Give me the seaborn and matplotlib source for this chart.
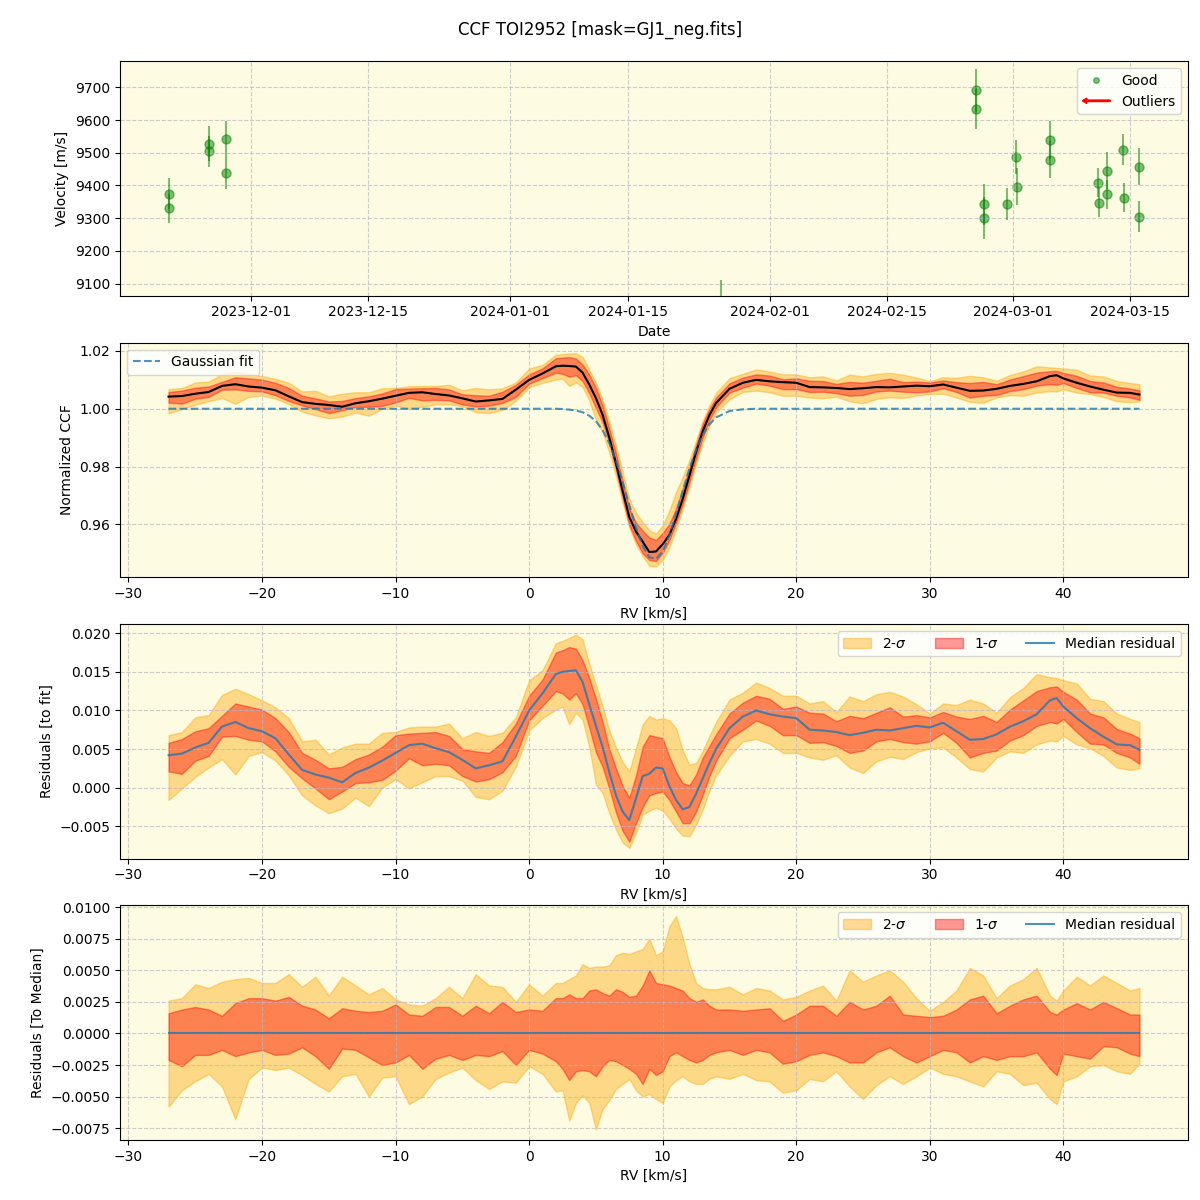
import numpy as np
import pandas as pd
import matplotlib
matplotlib.use("Agg")
import matplotlib.pyplot as plt
import matplotlib.dates as mdates
import matplotlib.patches as mpatches
from matplotlib.lines import Line2D
from matplotlib.legend_handler import HandlerPatch
import seaborn as sns


# ---- RV time series (top panel)
good_dates = ["2023-11-21 04:00", "2023-11-21 06:00", "2023-11-26 00:00", "2023-11-26 01:00",
              "2023-11-28 00:00", "2023-11-28 01:00", "2024-02-25 14:00", "2024-02-25 15:00",
              "2024-02-26 12:00", "2024-02-26 13:00", "2024-02-29 07:00", "2024-03-01 10:00",
              "2024-03-01 11:00", "2024-03-05 10:00", "2024-03-05 11:00", "2024-03-11 05:00",
              "2024-03-11 06:00", "2024-03-12 05:00", "2024-03-12 06:00", "2024-03-14 05:00",
              "2024-03-14 06:00", "2024-03-16 02:00", "2024-03-16 03:00"]
good_vel = [9375, 9330, 9528, 9504, 9543, 9439, 9691, 9635, 9342, 9301, 9342, 9488,
            9396, 9540, 9479, 9409, 9347, 9445, 9373, 9509, 9363, 9458, 9305]
good_err = [48, 45, 53, 48, 53, 50, 66, 61, 63, 64, 49, 52,
            56, 58, 56, 45, 44, 56, 45, 47, 44, 58, 48]
outlier_dates = ["2024-01-26 03:00"]
outlier_vel = [8950]
outlier_err = [160]

# ---- CCF (RV grid in km/s)
rv = [-27, -26, -25, -24, -23, -22, -21, -20, -19, -18, -17, -16, -15, -14, -13, -12, -11, -10,
      -9, -8, -7, -6, -5, -4, -3, -2, -1, 0, 1, 2,
      2.5, 3, 3.5, 4, 4.5, 5, 5.5, 6, 6.5, 7, 7.5, 8, 8.5, 9, 9.5, 10, 10.5, 11, 11.5, 12,
      12.5, 13, 13.5,
      14, 15, 16, 17, 18, 19, 20, 21, 22, 23, 24, 25, 26, 27, 28, 29, 30, 31, 32, 33, 34, 35,
      36, 37, 38, 39, 39.5, 40, 41, 42, 43, 44, 45, 45.7]

# Gaussian fit of the CCF
gauss_fit = [1.0, 1.0, 1.0, 1.0, 1.0, 1.0, 1.0, 1.0, 1.0, 1.0, 1.0, 1.0, 1.0, 1.0, 1.0, 1.0, 1.0, 1.0,
             1.0, 1.0, 1.0, 1.0, 1.0, 1.0, 1.0, 1.0, 1.0, 1.0, 1.0, 1.0,
             0.9999, 0.9997, 0.9994, 0.9988, 0.9976, 0.9957, 0.9926, 0.9881, 0.9821, 0.9747,
             0.9667, 0.9589, 0.9525, 0.9486, 0.9480, 0.9506, 0.9561, 0.9635, 0.9716, 0.9793,
             0.9858, 0.9910, 0.9946,
             0.9970, 0.9992, 0.9998, 1.0, 1.0, 1.0, 1.0, 1.0, 1.0, 1.0, 1.0, 1.0, 1.0, 1.0, 1.0,
             1.0, 1.0, 1.0, 1.0, 1.0, 1.0, 1.0, 1.0, 1.0, 1.0, 1.0, 1.0, 1.0, 1.0, 1.0, 1.0, 1.0,
             1.0, 1.0]

# median residual (CCF - fit)
resid_median = [0.0042, 0.0044, 0.0052, 0.0058, 0.0079, 0.0085, 0.0077, 0.0073, 0.0064, 0.0043,
                0.0023, 0.0017, 0.0013, 0.0007, 0.0019, 0.0026, 0.0035, 0.0045, 0.0055, 0.0057,
                0.0051, 0.0046, 0.0036, 0.0025, 0.0029, 0.0034, 0.0066, 0.0100, 0.0122, 0.0147,
                0.0150, 0.0151, 0.0152, 0.0137, 0.0108, 0.0080, 0.0053, 0.0020, -0.0010, -0.0031,
                -0.0042, -0.0014, 0.0015, 0.0018, 0.0026, 0.0025, 0.0002, -0.0016, -0.0028, -0.0025,
                -0.0008, 0.0012, 0.0032,
                0.0050, 0.0077, 0.0092, 0.0100, 0.0095, 0.0092, 0.0090, 0.0075, 0.0074, 0.0072,
                0.0068, 0.0071, 0.0075, 0.0074, 0.0077, 0.0080, 0.0078, 0.0084, 0.0073, 0.0062,
                0.0063, 0.0069, 0.0079, 0.0086, 0.0095, 0.0113, 0.0116, 0.0105, 0.0090, 0.0077,
                0.0066, 0.0056, 0.0055, 0.0049]

# band edges relative to the median
hi_2sig = [0.0026, 0.0028, 0.0039, 0.0036, 0.0041, 0.0043, 0.0044, 0.0040, 0.0040, 0.0047,
           0.0037, 0.0045, 0.0030, 0.0045, 0.0038, 0.0031, 0.0036, 0.0027, 0.0023, 0.0022,
           0.0028, 0.0037, 0.0028, 0.0047, 0.0038, 0.0037, 0.0025, 0.0039, 0.0030, 0.0040,
           0.0040, 0.0043, 0.0046, 0.0055, 0.0052, 0.0053, 0.0053, 0.0054, 0.0062, 0.0064,
           0.0063, 0.0065, 0.0067, 0.0075, 0.0062, 0.0065, 0.0085, 0.0093, 0.0076, 0.0055,
           0.0040, 0.0036, 0.0035,
           0.0035, 0.0037, 0.0031, 0.0036, 0.0034, 0.0027, 0.0029, 0.0034, 0.0038, 0.0026,
           0.0050, 0.0041, 0.0046, 0.0050, 0.0041, 0.0028, 0.0018, 0.0025, 0.0034, 0.0052,
           0.0046, 0.0028, 0.0038, 0.0043, 0.0052, 0.0030, 0.0026, 0.0034, 0.0045, 0.0038,
           0.0046, 0.0040, 0.0034, 0.0036]
hi_1sig = [0.0016, 0.0019, 0.0021, 0.0019, 0.0014, 0.0024, 0.0028, 0.0028, 0.0026, 0.0029,
           0.0022, 0.0019, 0.0012, 0.0020, 0.0018, 0.0017, 0.0018, 0.0023, 0.0015, 0.0014,
           0.0021, 0.0021, 0.0014, 0.0022, 0.0016, 0.0025, 0.0017, 0.0019, 0.0018, 0.0028,
           0.0028, 0.0031, 0.0028, 0.0028, 0.0034, 0.0035, 0.0032, 0.0030, 0.0035, 0.0033,
           0.0029, 0.0030, 0.0038, 0.0050, 0.0040, 0.0039, 0.0038, 0.0036, 0.0034, 0.0028,
           0.0025, 0.0027, 0.0022,
           0.0019, 0.0019, 0.0018, 0.0019, 0.0020, 0.0010, 0.0015, 0.0022, 0.0022, 0.0014,
           0.0025, 0.0019, 0.0022, 0.0030, 0.0015, 0.0014, 0.0013, 0.0014, 0.0019, 0.0027,
           0.0030, 0.0016, 0.0022, 0.0027, 0.0030, 0.0017, 0.0015, 0.0019, 0.0024, 0.0019,
           0.0025, 0.0020, 0.0015, 0.0015]
lo_1sig = [-0.0021, -0.0026, -0.0017, -0.0017, -0.0013, -0.0018, -0.0015, -0.0013, -0.0017, -0.0016,
           -0.0011, -0.0018, -0.0028, -0.0012, -0.0013, -0.0019, -0.0025, -0.0023, -0.0017, -0.0028,
           -0.0020, -0.0017, -0.0021, -0.0017, -0.0018, -0.0014, -0.0025, -0.0013, -0.0016, -0.0022,
           -0.0028, -0.0037, -0.0030, -0.0029, -0.0030, -0.0034, -0.0026, -0.0021, -0.0022, -0.0025,
           -0.0028, -0.0032, -0.0040, -0.0028, -0.0033, -0.0030, -0.0018, -0.0015, -0.0018, -0.0021,
           -0.0023, -0.0021, -0.0017,
           -0.0015, -0.0013, -0.0017, -0.0013, -0.0015, -0.0024, -0.0022, -0.0017, -0.0015, -0.0018,
           -0.0023, -0.0023, -0.0015, -0.0011, -0.0018, -0.0023, -0.0018, -0.0013, -0.0015, -0.0023,
           -0.0018, -0.0021, -0.0018, -0.0018, -0.0015, -0.0028, -0.0033, -0.0016, -0.0018, -0.0020,
           -0.0010, -0.0011, -0.0016, -0.0018]
lo_2sig = [-0.0058, -0.0045, -0.0038, -0.0032, -0.0042, -0.0068, -0.0036, -0.0027, -0.0029, -0.0027,
           -0.0033, -0.0040, -0.0046, -0.0034, -0.0032, -0.0050, -0.0035, -0.0034, -0.0056, -0.0050,
           -0.0036, -0.0031, -0.0027, -0.0037, -0.0044, -0.0038, -0.0039, -0.0026, -0.0032, -0.0046,
           -0.0045, -0.0069, -0.0055, -0.0049, -0.0055, -0.0076, -0.0060, -0.0053, -0.0044, -0.0040,
           -0.0036, -0.0045, -0.0050, -0.0048, -0.0052, -0.0055, -0.0042, -0.0037, -0.0034, -0.0038,
           -0.0040, -0.0040, -0.0036,
           -0.0034, -0.0036, -0.0032, -0.0037, -0.0038, -0.0047, -0.0045, -0.0036, -0.0038, -0.0030,
           -0.0042, -0.0052, -0.0041, -0.0034, -0.0040, -0.0034, -0.0027, -0.0032, -0.0034, -0.0038,
           -0.0042, -0.0030, -0.0032, -0.0041, -0.0039, -0.0052, -0.0056, -0.0038, -0.0034, -0.0026,
           -0.0025, -0.0030, -0.0032, -0.0024]

BG = "#fdfbe1"
GRID = dict(linestyle="--", color="#b8b8c8", alpha=0.7, linewidth=0.8)


def make_arrow(legend, orig_handle, xdescent, ydescent, width, height, fontsize):
    return mpatches.FancyArrow(-xdescent + width, -ydescent + height / 2, -width, 0,
                               width=height * 0.15, head_width=height * 0.55,
                               head_length=height * 0.45, length_includes_head=True)


def band_plot(ax, x, med, offsets, median_color, median_label, band_labels=True):
    h2, h1, l1, l2 = offsets
    lab2 = "2-$\\sigma$" if band_labels else "_nolegend_"
    lab1 = "1-$\\sigma$" if band_labels else "_nolegend_"
    ax.fill_between(x, med + l2, med + h2, color="orange", alpha=0.4, label=lab2)
    ax.fill_between(x, med + l1, med + h1, color="red", alpha=0.4, label=lab1)
    sns.lineplot(x=x, y=med, ax=ax, color=median_color, lw=1.5,
                 alpha=0.8 if median_label else 1,
                 label=median_label, sort=False, estimator=None)


x = np.array(rv)
fit = np.array(gauss_fit)
resid = np.array(resid_median)
offs = (np.array(hi_2sig), np.array(hi_1sig), np.array(lo_1sig), np.array(lo_2sig))

fig, axes = plt.subplots(4, 1, figsize=(12, 12), dpi=100)
fig.subplots_adjust(left=0.1, right=0.99, top=0.949, bottom=0.05, hspace=0.2)
fig.suptitle("CCF TOI2952 [mask=GJ1_neg.fits]", fontsize=12, y=0.983)

for ax in axes:
    ax.set_facecolor(BG)

# --- panel 1: velocities
ax = axes[0]
gd = pd.to_datetime(good_dates)
od = pd.to_datetime(outlier_dates)
ax.errorbar(gd, good_vel, yerr=good_err, fmt="none", ecolor="green", alpha=0.5, elinewidth=1.5)
ax.errorbar(od, outlier_vel, yerr=outlier_err, fmt="none", ecolor="green", alpha=0.5, elinewidth=1.5)
sns.scatterplot(x=gd, y=good_vel, ax=ax, color="green", edgecolor="green", linewidth=1,
                alpha=0.5, s=42, legend=False)
ax.set_ylim(9063, 9780)
ax.xaxis.set_major_locator(mdates.DayLocator(bymonthday=[1, 15]))
ax.xaxis.set_major_formatter(mdates.DateFormatter("%Y-%m-%d"))
ax.set_xlabel("Date")
ax.set_ylabel("Velocity [m/s]")
ax.grid(True, **GRID)
good_h = Line2D([], [], marker="o", color="green", alpha=0.5, linestyle="None", markersize=4)
out_h = mpatches.FancyArrow(0, 0, 1, 0, color="red")
ax.legend([good_h, out_h], ["Good", "Outliers"], loc="upper right",
          handler_map={mpatches.FancyArrow: HandlerPatch(patch_func=make_arrow)})

# --- panel 2: CCF + gaussian fit
ax = axes[1]
band_plot(ax, x, fit + resid, offs, "black", None, band_labels=False)
sns.lineplot(x=x, y=fit, ax=ax, color="tab:blue", alpha=0.8, lw=1.5, linestyle="--",
             label="Gaussian fit", sort=False, estimator=None)
ax.set_xlabel("RV [km/s]")
ax.set_ylabel("Normalized CCF")
ax.grid(True, **GRID)
ax.legend(loc="upper left")

# --- panel 3: residuals to fit
ax = axes[2]
band_plot(ax, x, resid, offs, "tab:blue", "Median residual")
ax.set_xlabel("RV [km/s]")
ax.set_ylabel("Residuals [to fit]")
ax.grid(True, **GRID)
ax.legend(loc="upper right", ncol=3)

# --- panel 4: residuals to median
ax = axes[3]
band_plot(ax, x, resid - resid, offs, "tab:blue", "Median residual")
ax.set_xlabel("RV [km/s]")
ax.set_ylabel("Residuals [To Median]")
ax.grid(True, **GRID)
ax.legend(loc="upper right", ncol=3)

fig.savefig("out.png", dpi=100)
